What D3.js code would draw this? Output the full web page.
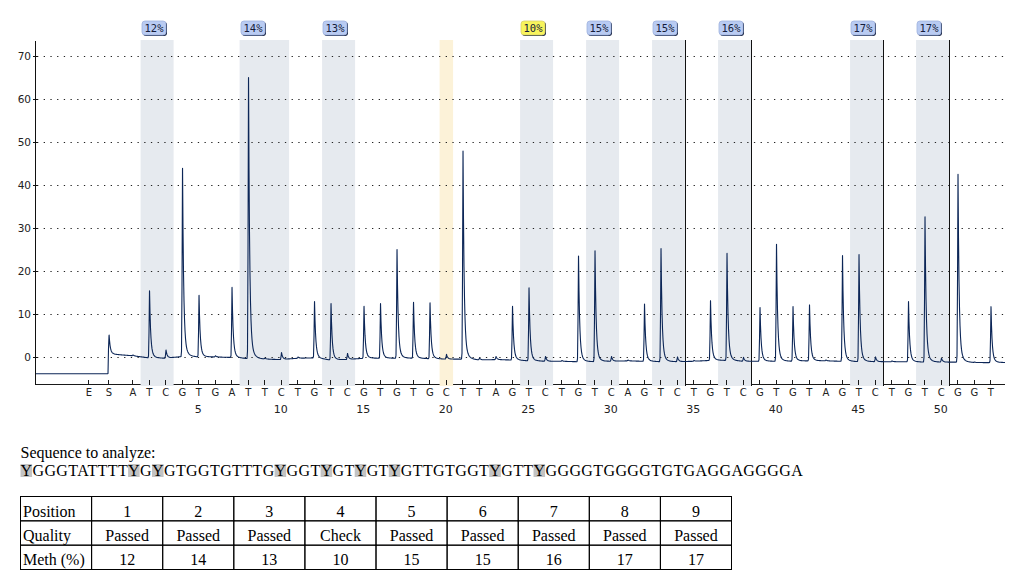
<!DOCTYPE html>
<html><head><meta charset="utf-8">
<script src="https://cdn.jsdelivr.net/npm/d3@7"></script>
<style>body{margin:0;background:#fff;} svg{display:block}</style>
</head><body><svg id="c" width="1012" height="576"></svg>
<script>
// ---------------- data ----------------
const dispensation = ["E","S","A","T","C","G","T","G","A","T","T","C","T","G","T","C","G","T","G","T","G","C","T","T","A","G","T","C","T","G","T","C","A","G","T","C","T","G","T","C","G","T","G","T","A","G","T","C","T","G","T","C","G","G","T"];
// slot of each dispensation on the x axis (E and S precede dispensation 1)
const slotPos = [-1.67, -0.45].concat(d3.range(1, 54));
// peak height above baseline for each dispensation
const peakHeights = [0, 4.4,
  0.2, 15.6, 1.9, 43.8, 14.3, 0.3, 16.3, 65.4, 0.2, 1.6,
  0.3, 13.1, 13.1, 1.4, 12.1, 12.7, 25.3, 13.0, 13.0, 1.1,
  48.4, 0.4, 0.7, 12.5, 17.0, 1.1, 0.2, 24.6, 25.8, 1.1,
  0.2, 13.3, 26.3, 1.1, 0.2, 13.9, 24.9, 0.9, 12.5, 27.2,
  12.7, 13.0, 0.2, 24.6, 24.9, 1.1, 0.2, 14.0, 33.8, 0.9,
  43.7, 0.1, 13.0];
// baseline level of the trace at each dispensation
const baselineLevels = [-3.9, 0.7,
  0.3, -0.2, -0.3, 0.1, 0.0, 0.0, -0.1, -0.4, -0.5, -0.6,
  -0.3, -0.2, -0.7, -0.6, -0.3, -0.3, -0.3, -0.3, -0.4, -0.5,
  -0.5, -0.7, -0.6, -0.7, -0.9, -1.0, -1.0, -1.1, -1.1, -1.0,
  -0.9, -1.0, -1.1, -1.1, -1.0, -0.8, -0.8, -1.0, -1.0, -1.0,
  -1.0, -0.9, -0.9, -1.0, -1.1, -1.1, -1.1, -1.1, -1.2, -1.2,
  -1.2, -1.3, -1.3];
const bandStart = [2, 8, 13, 25, 29, 33, 37, 45, 49];
const bandEnd   = [3, 10, 14, 26, 30, 34, 38, 46, 50];
const methPct   = [12, 14, 13, 10, 15, 15, 16, 17, 17];
const quality   = ["Passed","Passed","Passed","Check","Passed","Passed","Passed","Passed","Passed"];
const controlPos = [20];
const dividerAfter = [34, 38, 46, 50];
const yTicks = [0, 10, 20, 30, 40, 50, 60, 70];
const positionNumbers = [5, 10, 15, 20, 25, 30, 35, 40, 45, 50];
const sequence = "YGGGTATTTTYGYGTGGTGTTTGYGGTYGTYGTYGTTGTGGTYGTTYGGGGTGGGGTGTGAGGAGGGGA";
const tableRowLabels = ["Position", "Quality", "Meth (%)"];

// ---------------- scales ----------------
const svg = d3.select("#c");
const x = d3.scaleLinear().domain([-4.9, 53.89]).range([35, 1005]);
const y = d3.scaleLinear().domain([0, 70]).range([357, 56]);
const plotTop = 40, axisY = 384, bandBottom = 386;
const unitPx = x(1) - x(0);
const peakLagPx = 0.7;

// x-axis base line (under the bands)
svg.append("line").attr("x1", 35).attr("x2", 1005).attr("y1", axisY + 0.5).attr("y2", axisY + 0.5)
  .attr("stroke", "#1a1a1a").attr("stroke-width", 1);

// bands
const bands = bandStart.map((s, i) => ({s, e: bandEnd[i], pct: methPct[i], q: quality[i]}));
svg.append("g").selectAll("rect").data(bands).join("rect")
  .attr("x", d => x(d.s - 0.5)).attr("width", d => x(d.e + 0.5) - x(d.s - 0.5))
  .attr("y", plotTop).attr("height", bandBottom - plotTop)
  .attr("fill", "#e6eaef");
svg.append("g").selectAll("rect").data(controlPos).join("rect")
  .attr("x", d => x(d - 0.5) + 2).attr("width", unitPx - 3)
  .attr("y", plotTop).attr("height", bandBottom - plotTop)
  .attr("fill", "#fcf2d8");

// gridlines
svg.append("g").selectAll("line").data(yTicks).join("line")
  .attr("x1", 37).attr("x2", 1005).attr("y1", d => Math.round(y(d)) + 0.5).attr("y2", d => Math.round(y(d)) + 0.5)
  .attr("stroke", "#222").attr("stroke-width", 1).attr("stroke-dasharray", "1.3,5.4");

// divider lines
svg.append("g").selectAll("line").data(dividerAfter).join("line")
  .attr("x1", d => Math.round(x(d + 0.5)) + 0.5).attr("x2", d => Math.round(x(d + 0.5)) + 0.5)
  .attr("y1", plotTop).attr("y2", bandBottom)
  .attr("stroke", "#111").attr("stroke-width", 1);

// x ticks
svg.append("g").selectAll("line").data(slotPos).join("line")
  .attr("x1", d => Math.round(x(d)) + 0.5).attr("x2", d => Math.round(x(d)) + 0.5)
  .attr("y1", axisY - 4).attr("y2", axisY + 1)
  .attr("stroke", "#1a1a1a").attr("stroke-width", 1);

// x labels
svg.append("g").selectAll("text").data(dispensation).join("text")
  .attr("x", (d, i) => x(slotPos[i]) + 0.5).attr("y", 396)
  .attr("text-anchor", "middle").attr("font-family", "DejaVu Sans").attr("font-size", 10)
  .attr("fill", "#222").text(d => d);
svg.append("g").selectAll("text").data(positionNumbers).join("text")
  .attr("x", d => x(d)).attr("y", 413)
  .attr("text-anchor", "middle").attr("font-family", "DejaVu Sans").attr("font-size", 11)
  .attr("fill", "#222").text(d => d);

// trace
function shape(dpx) {
  if (dpx < -2) return 0;
  if (dpx < 0) return Math.exp(-((dpx / 0.55) ** 2));
  return 0.92 * Math.exp(-dpx / 1.1) + 0.08 * Math.exp(-dpx / 3.5);
}
function base(t) {
  if (t < slotPos[1]) return baselineLevels[0];
  let k = 1;
  while (k < slotPos.length - 1 && slotPos[k + 1] <= t) k++;
  if (k >= slotPos.length - 1) return baselineLevels[baselineLevels.length - 1];
  const f = (t - slotPos[k]) / (slotPos[k + 1] - slotPos[k]);
  return baselineLevels[k] + f * (baselineLevels[k + 1] - baselineLevels[k]);
}
const lagUnits = peakLagPx / unitPx;
const ts = d3.range(35, 1005.01, 0.5).map(p => x.invert(p))
  .concat(slotPos.map(s => s + lagUnits)).sort((a, b) => a - b);
const trace = ts.map(t => {
  let v = base(t);
  for (let k = 1; k < slotPos.length; k++) {
    const dpx = (t - slotPos[k]) * unitPx - peakLagPx;
    if (dpx > -2 && dpx < 25) v += peakHeights[k] * shape(dpx);
  }
  return [t, v];
});
svg.append("path").datum(trace)
  .attr("d", d3.line().x(d => x(d[0])).y(d => y(d[1])))
  .attr("fill", "none").attr("stroke", "#0c2657").attr("stroke-width", 1.1).attr("stroke-linejoin", "round");

// y axis
svg.append("line").attr("x1", 35.5).attr("x2", 35.5).attr("y1", 41).attr("y2", axisY + 1)
  .attr("stroke", "#111").attr("stroke-width", 1);
svg.append("g").selectAll("line").data(yTicks).join("line")
  .attr("x1", 33).attr("x2", 38).attr("y1", d => Math.round(y(d)) + 0.5).attr("y2", d => Math.round(y(d)) + 0.5)
  .attr("stroke", "#111");
svg.append("g").selectAll("text").data(yTicks).join("text")
  .attr("x", 31).attr("y", d => y(d) + 4)
  .attr("text-anchor", "end").attr("font-family", "DejaVu Sans").attr("font-size", 10.5)
  .attr("fill", "#222").text(d => d);

// percentage labels
const lab = svg.append("g").selectAll("g").data(bands).join("g")
  .attr("transform", d => `translate(${Math.round(x(d.s - 0.5)) + 1},21)`);
lab.append("rect").attr("x", 1).attr("y", 1).attr("width", 24).attr("height", 14).attr("rx", 3)
  .attr("fill", "#1c2848");
lab.append("rect").attr("x", 0).attr("y", 0).attr("width", 24).attr("height", 14).attr("rx", 3)
  .attr("fill", d => d.q === "Check" ? "#f8f45c" : "#b9cbf2")
  .attr("stroke", d => d.q === "Check" ? "#d8d070" : "#9fb2de").attr("stroke-width", 0.8);
lab.append("text").attr("x", 12).attr("y", 10.8).attr("text-anchor", "middle")
  .attr("font-family", "DejaVu Sans Mono").attr("font-size", 10.5).attr("fill", "#141c3a")
  .text(d => d.pct + "%");

// sequence text
svg.append("text").attr("x", 20.5).attr("y", 458).attr("font-family", "Liberation Serif")
  .attr("font-size", 16).attr("fill", "#000").text("Sequence to analyze:");
const hlG = svg.append("g");
const seqText = svg.append("text").attr("x", 20.5).attr("y", 476).attr("font-family", "Liberation Serif")
  .attr("font-size", 16).attr("letter-spacing", 0.4).attr("fill", "#000").text(sequence);
const seqNode = seqText.node();
sequence.split("").forEach((ch, i) => {
  if (ch === "Y") {
    const ext = seqNode.getExtentOfChar(i);
    hlG.append("rect").attr("x", ext.x).attr("y", 464).attr("width", ext.width - 0.4).attr("height", 13)
      .attr("fill", "#c3c3c3");
  }
});

// table
const cols = ["label"].concat(d3.range(1, 10));
const cx = d3.scaleBand().domain(cols).range([20.5, 731.5]);
const ry = d3.scaleBand().domain(tableRowLabels).range([496.5, 569.5]);
const rowsData = [
  d3.range(1, 10).map(String),
  quality,
  methPct.map(String)
];
const tbl = svg.append("g");
tableRowLabels.forEach((rl, r) => {
  cols.forEach((c, j) => {
    tbl.append("rect").attr("x", cx(c)).attr("y", ry(rl)).attr("width", cx.bandwidth()).attr("height", ry.bandwidth())
      .attr("fill", "none").attr("stroke", "#000").attr("stroke-width", 1);
    const txt = j === 0 ? rl : rowsData[r][j - 1];
    tbl.append("text")
      .attr("x", j === 0 ? cx(c) + 2.5 : cx(c) + cx.bandwidth() / 2)
      .attr("y", ry(rl) + 20)
      .attr("text-anchor", j === 0 ? "start" : "middle")
      .attr("font-family", "Liberation Serif").attr("font-size", 16).attr("fill", "#000")
      .text(txt);
  });
});
</script>
</body></html>
